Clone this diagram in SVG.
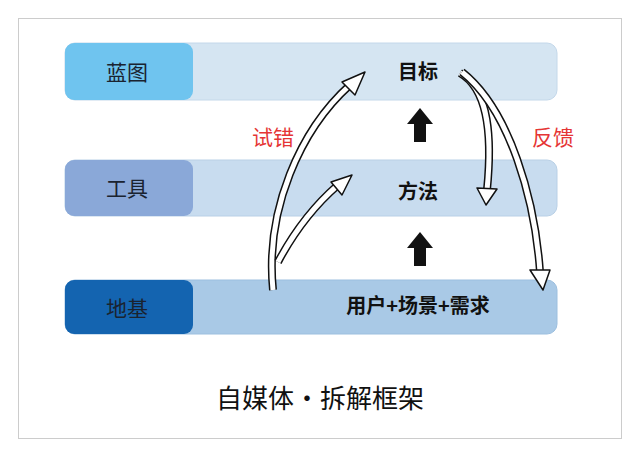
<svg xmlns="http://www.w3.org/2000/svg" width="640" height="451" viewBox="0 0 640 451">
<style>
.lbl{font-family:"Noto Sans CJK SC","Noto Sans",sans-serif;font-size:21px;fill:#1a2330;text-anchor:middle}
.mid{font-family:"Noto Sans CJK SC","Noto Sans",sans-serif;font-size:20px;font-weight:bold;fill:#111;text-anchor:middle}
.red{font-family:"Noto Sans CJK SC","Noto Sans",sans-serif;font-size:21px;fill:#e53535;text-anchor:middle}
.o{fill:none;stroke:#111;stroke-width:8}
.i{fill:none;stroke:#fff;stroke-width:5}
.h{fill:#fff;stroke:#111;stroke-width:1.5;stroke-linejoin:round}
</style>
<rect width="640" height="451" fill="#fff"/>
<rect x="18.5" y="18.5" width="603" height="420" fill="none" stroke="#ccc"/>
<g id="blueprint">
<rect x="65" y="43" width="492" height="57" rx="10" fill="#d5e5f2" stroke="#c4d8ea"/>
<rect x="65" y="43" width="128" height="57" rx="9" fill="#6fc4ef"/>
<text class="lbl" x="127" y="80">蓝图</text>
<text class="mid" x="418" y="79">目标</text>
</g>
<g id="tools">
<rect x="65" y="160" width="492" height="56" rx="10" fill="#c8dcef" stroke="#b9d0e6"/>
<rect x="65" y="160" width="128" height="56" rx="9" fill="#8aa8d8"/>
<text class="lbl" x="127" y="196">工具</text>
<text class="mid" x="418" y="199">方法</text>
</g>
<g id="foundation">
<rect x="65" y="280" width="492" height="54" rx="10" fill="#a9c9e6" stroke="#9cbfdf"/>
<rect x="65" y="280" width="128" height="54" rx="9" fill="#1464b0"/>
<text class="lbl" x="127" y="316">地基</text>
<text class="mid" x="418" y="313">用户+场景+需求</text>
</g>
<text class="red" x="273" y="145">试错</text>
<text class="red" x="553" y="145">反馈</text>
<text x="320" y="408" font-family="'Noto Sans CJK SC','Noto Sans',sans-serif" font-size="26" fill="#111" text-anchor="middle">自媒体·拆解框架</text>
<g id="connectors">
<polygon points="414,142 414,124 407,124 420,108 433,124 426,124 426,142" fill="#111"/>
<polygon points="414,266 414,248 407,248 420,232 433,248 426,248 426,266" fill="#111"/>
<path class="o" d="M273,290 C265,210 300,130 350,85"/>
<path class="i" d="M273,290 C265,210 300,130 350,85"/>
<polygon class="h" points="342,82 365,72 355,95"/>
<path class="o" d="M278,262 C295,230 315,205 338,185"/>
<path class="i" d="M278,262 C295,230 315,205 338,185"/>
<polygon class="h" points="331,182 352,175 342,195"/>
<path class="o" d="M460,73 C490,90 492,140 487,190"/>
<path class="i" d="M460,73 C490,90 492,140 487,190"/>
<polygon class="h" points="477,188 497,189 486,205"/>
<path class="o" d="M462,72 C510,110 535,200 540,272"/>
<path class="i" d="M462,72 C510,110 535,200 540,272"/>
<polygon class="h" points="530,270 550,270 543,290"/>
</g>
</svg>
